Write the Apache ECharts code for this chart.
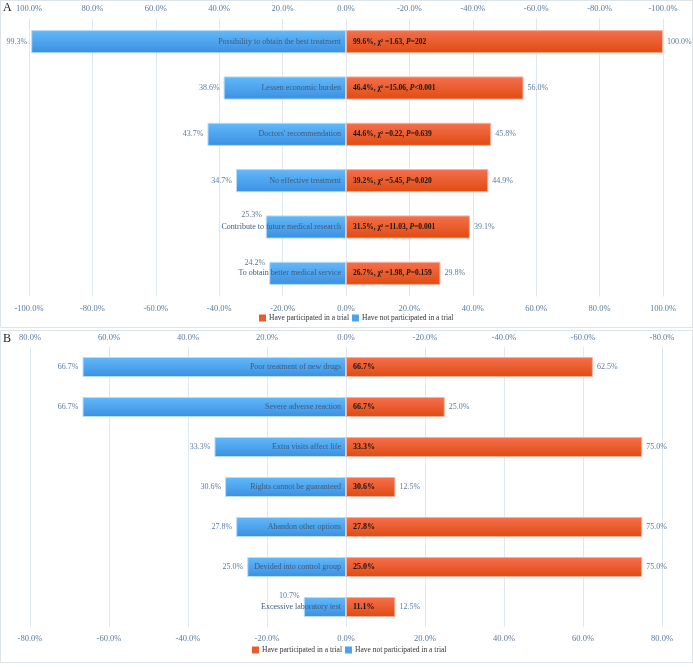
<!DOCTYPE html>
<html>
<head>
<meta charset="utf-8">
<script src="https://cdn.jsdelivr.net/npm/echarts@6/dist/echarts.min.js"></script>
<style>
html,body{margin:0;padding:0;background:#fff;}
#chart{width:693px;height:667px;}
</style>
</head>
<body>
<div id="chart"></div>
<script>
// ---- Data ----
const seriesNames = ['Have participated in a trial', 'Have not participated in a trial'];

const categoriesA = ['Possibility to obtain the best treatment', 'Lessen economic burden', "Doctors' recommendation",
  'No effective treatment', 'Contribute to future medical research', 'To obtain better medical service'];
const participatedA = [100.0, 56.0, 45.8, 44.9, 39.1, 29.8];
const notParticipatedA = [99.3, 38.6, 43.7, 34.7, 25.3, 24.2];
const statPctA = ['99.6%', '46.4%', '44.6%', '39.2%', '31.5%', '26.7%'];
const statChiA = ['1.63', '15.06', '0.22', '5.45', '11.03', '1.98'];
const statPA = ['=202', '<0.001', '=0.639', '=0.020', '=0.001', '=0.159'];
const ticksA = { min: -100, max: 100, step: 20 };

const categoriesB = ['Poor treatment of new drugs', 'Severe adverse reaction', 'Extra visits affect life',
  'Rights cannot be guaranteed', 'Abandon other options', 'Devided into control group', 'Excessive laboratory test'];
const participatedB = [62.5, 25.0, 75.0, 12.5, 75.0, 75.0, 12.5];
const notParticipatedB = [66.7, 66.7, 33.3, 30.6, 27.8, 25.0, 10.7];
const innerB = ['66.7%', '66.7%', '33.3%', '30.6%', '27.8%', '25.0%', '11.1%'];
const ticksB = { min: -80, max: 80, step: 20 };

// ---- Styles ----
const FONT = "'Liberation Serif', 'Times New Roman', serif";
const AXIS_COLOR = '#5a7b9c';
const CAT_COLOR = '#3e5c7e';
const GRID_COLOR = '#dfe8ef';

const chart = echarts.init(document.getElementById('chart'), null, { renderer: 'canvas' });
const LG = echarts.graphic.LinearGradient;
const redFill = new LG(0, 0, 0, 1, [{ offset: 0, color: '#f4704f' }, { offset: 1, color: '#e04b10' }]);
const blueFill = new LG(0, 0, 0, 1, [{ offset: 0, color: '#63b9f8' }, { offset: 1, color: '#3a90e2' }]);

const pctFmt = v => Number(v).toFixed(1) + '%';
const absFmt = p => Math.abs(p.value).toFixed(1) + '%';

function xAxes(gi, t, bottomMargin, topMargin) {
  const common = {
    gridIndex: gi, type: 'value', min: t.min, max: t.max, interval: t.step,
    axisLine: { show: false }, axisTick: { show: false }
  };
  return [
    Object.assign({}, common, {
      position: 'bottom',
      axisLabel: { formatter: pctFmt, fontSize: 8.5, color: AXIS_COLOR, fontFamily: FONT, margin: bottomMargin },
      splitLine: { show: true, lineStyle: { color: GRID_COLOR, width: 1 } }
    }),
    Object.assign({}, common, {
      position: 'top', inverse: true,
      axisLabel: { formatter: pctFmt, fontSize: 8.5, color: AXIS_COLOR, fontFamily: FONT, margin: topMargin },
      splitLine: { show: false }
    })
  ];
}

function panelSeries(gi, xi, red, blue, innerTexts, shortOffsets, barW) {
  const base = { type: 'bar', xAxisIndex: xi, yAxisIndex: gi, barWidth: barW, barGap: '-100%', silent: true, emphasis: { disabled: true } };
  const blueData = blue.map((v, i) => {
    const item = { value: -v };
    if (shortOffsets[i] !== undefined) item.label = { offset: [0, shortOffsets[i]] };
    return item;
  });
  return [
    Object.assign({}, base, {
      name: seriesNames[0], stack: 'main' + gi, data: red,
      itemStyle: { color: redFill, borderColor: '#f7b29c', borderWidth: 1 },
      label: { show: true, position: 'right', distance: 4, formatter: p => pctFmt(p.value), fontSize: 8, color: AXIS_COLOR, fontFamily: FONT }
    }),
    Object.assign({}, base, {
      name: seriesNames[1], stack: 'main' + gi, data: blueData,
      itemStyle: { color: blueFill, borderColor: '#b6dcf9', borderWidth: 1 },
      label: { show: true, position: 'left', distance: 4, formatter: absFmt, fontSize: 8, color: AXIS_COLOR, fontFamily: FONT }
    }),
    Object.assign({}, base, {
      name: 'redText' + gi, stack: 'over' + gi, data: red, z: 3,
      itemStyle: { color: 'rgba(0,0,0,0)' },
      label: { show: true, position: 'insideLeft', distance: 7, formatter: p => innerTexts[p.dataIndex],
        fontFamily: FONT, fontSize: 8, fontWeight: 'bold', color: '#151515',
        rich: {
          b: { fontFamily: FONT, fontSize: 7.5, fontWeight: 'bold', color: '#151515' },
          i: { fontFamily: FONT, fontSize: 7.5, fontWeight: 'bold', fontStyle: 'italic', color: '#151515' }
        } }
    }),
    Object.assign({}, base, {
      name: 'blueText' + gi, stack: 'over' + gi, data: blue.map(v => -v), z: 3,
      itemStyle: { color: 'rgba(0,0,0,0)' },
      label: { show: true, position: 'insideRight', distance: 5, formatter: '{b}', fontSize: 8, color: CAT_COLOR, fontFamily: FONT }
    })
  ];
}

const innerA = statPctA.map((p, i) => '{b|' + p + ', χ² =' + statChiA[i] + ', }{i|P}{b|' + statPA[i] + '}');

const legendCommon = {
  icon: 'rect', itemWidth: 7, itemHeight: 7, itemGap: 3, orient: 'horizontal',
  data: [
    { name: seriesNames[0], itemStyle: { color: '#e95a2c', borderWidth: 0 } },
    { name: seriesNames[1], itemStyle: { color: '#4aa3ef', borderWidth: 0 } }
  ],
  selectedMode: false,
  textStyle: { fontSize: 7.5, color: '#333', fontFamily: FONT, padding: [0, 0, 0, -2] }
};

const option = {
  animation: false,
  backgroundColor: '#fff',
  grid: [
    { left: 29, right: 30, top: 18.5, height: 278 },
    { left: 30, right: 31, top: 347, height: 280 }
  ],
  xAxis: [].concat(xAxes(0, ticksA, 8, 5), xAxes(1, ticksB, 7, 5)),
  yAxis: [
    { gridIndex: 0, type: 'category', data: categoriesA, inverse: true, show: false },
    { gridIndex: 1, type: 'category', data: categoriesB, inverse: true, show: false }
  ],
  legend: [
    Object.assign({}, legendCommon, { left: 254, top: 309 }),
    Object.assign({}, legendCommon, { left: 247, top: 641 })
  ],
  graphic: [
    { type: 'rect', shape: { x: 0.5, y: 0.5, width: 692, height: 327 }, style: { fill: 'none', stroke: '#dde4e9', lineWidth: 1 }, silent: true },
    { type: 'rect', shape: { x: 0.5, y: 330.5, width: 692, height: 332 }, style: { fill: 'none', stroke: '#dde4e9', lineWidth: 1 }, silent: true },
    { type: 'text', left: 3, top: 2, style: { text: 'A', fontFamily: FONT, fontSize: 12, fill: '#222' } },
    { type: 'text', left: 3, top: 333, style: { text: 'B', fontFamily: FONT, fontSize: 12, fill: '#222' } }
  ],
  series: [].concat(
    panelSeries(0, 0, participatedA, notParticipatedA, innerA, { 4: -12, 5: -10 }, '50%'),
    panelSeries(1, 2, participatedB, notParticipatedB, innerB, { 6: -11 }, '50%')
  )
};
chart.setOption(option);
</script>
</body>
</html>
